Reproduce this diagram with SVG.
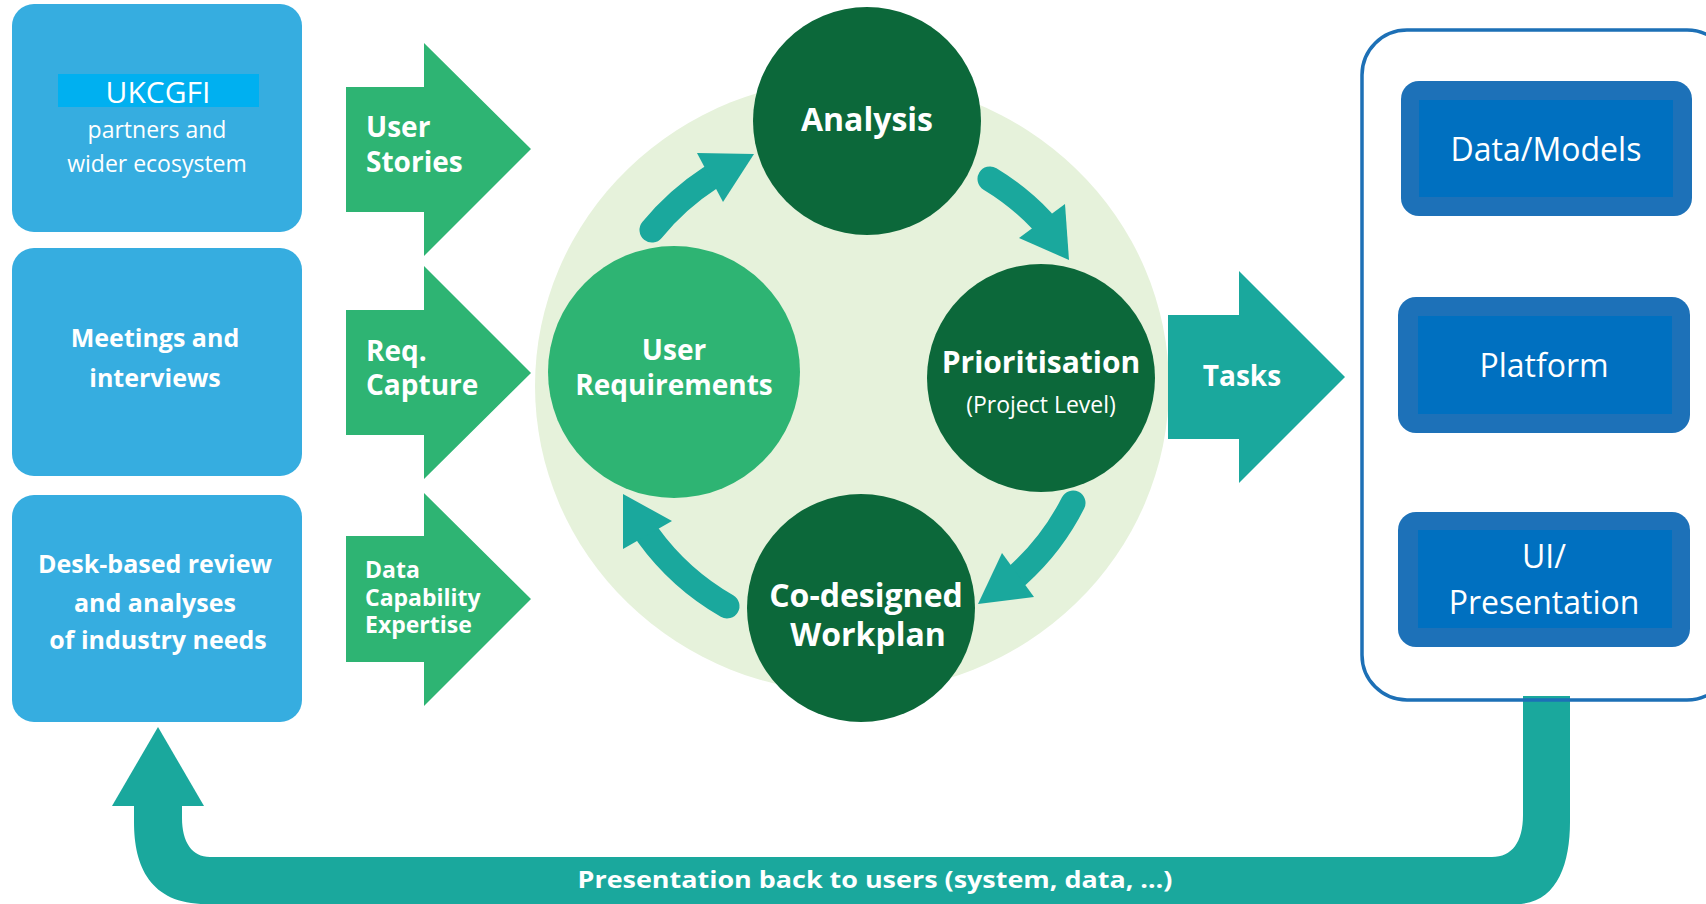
<svg xmlns="http://www.w3.org/2000/svg" width="1706" height="904" viewBox="0 0 1706 904">
<style>
.src{fill:#36ADE0}
.t{font-family:"Open Sans","Noto Sans",sans-serif;fill:#fff}
.b{font-weight:bold}
.g{fill:#2EB473}
.dk{fill:#0C683A}
.teal{fill:#1AA89D}
.shaft{fill:none;stroke:#1AA89D;stroke-width:25;stroke-linecap:round}
.bo{fill:#1D71B8}
.bi{fill:#0070C0}
</style>
<rect width="1706" height="904" fill="#fff"/>

<g id="bg-circle"><ellipse cx="852" cy="386" rx="317" ry="307" fill="#E6F2DB"/></g>

<g id="feedback">
<path class="teal" d="M134,806 L134,822 C134,866 150,904 206,904 L1516,904 C1556,904 1570,866 1570,822 L1570,696 L1523,696 L1523,815 C1523,842 1512,857 1492,857 L210,857 C192,857 182,842 182,818 L182,806 Z"/>
<polygon class="teal" points="158,727 204,806 112,806"/>
<text class="t b" x="875" y="888" font-size="24" text-anchor="middle" textLength="595" lengthAdjust="spacingAndGlyphs">Presentation back to users (system, data, …)</text>
</g>

<g id="src1">
<rect class="src" x="12" y="4" width="290" height="228" rx="22"/>
<rect x="58" y="74" width="201" height="33" fill="#00B0F0"/>
<text class="t" x="158" y="103" font-size="30" text-anchor="middle">UKCGFI</text>
<text class="t" x="157" y="138" font-size="23" text-anchor="middle">partners and</text>
<text class="t" x="157" y="172" font-size="23" text-anchor="middle">wider ecosystem</text>
</g>
<g id="src2">
<rect class="src" x="12" y="248" width="290" height="228" rx="22"/>
<text class="t b" x="155" y="347" font-size="25" text-anchor="middle">Meetings and</text>
<text class="t b" x="155" y="387" font-size="25" text-anchor="middle">interviews</text>
</g>
<g id="src3">
<rect class="src" x="12" y="495" width="290" height="227" rx="22"/>
<text class="t b" x="155" y="573" font-size="25" text-anchor="middle">Desk-based review</text>
<text class="t b" x="155" y="612" font-size="25" text-anchor="middle">and analyses</text>
<text class="t b" x="158" y="649" font-size="25" text-anchor="middle">of industry needs</text>
</g>

<g id="in1">
<polygon class="g" points="346,87 424,87 424,43 531,149 424,256 424,212 346,212"/>
<text class="t b" x="366" y="137" font-size="28">User</text>
<text class="t b" x="366" y="172" font-size="28">Stories</text>
</g>
<g id="in2">
<polygon class="g" points="346,310 424,310 424,266 531,373 424,479 424,435 346,435"/>
<text class="t b" x="366" y="361" font-size="28">Req.</text>
<text class="t b" x="366" y="395" font-size="28">Capture</text>
</g>
<g id="in3">
<polygon class="g" points="346,536 424,536 424,493 531,599 424,706 424,662 346,662"/>
<text class="t b" x="365" y="578" font-size="23">Data</text>
<text class="t b" x="365" y="606" font-size="23">Capability</text>
<text class="t b" x="365" y="633" font-size="23">Expertise</text>
</g>

<g id="analysis">
<circle class="dk" cx="867" cy="121" r="114"/>
<text class="t b" x="867" y="131" font-size="32" text-anchor="middle">Analysis</text>
</g>
<g id="user-req">
<circle class="g" cx="674" cy="372" r="126"/>
<text class="t b" x="674" y="360" font-size="28" text-anchor="middle">User</text>
<text class="t b" x="674" y="395" font-size="28" text-anchor="middle">Requirements</text>
</g>
<g id="prioritisation">
<circle class="dk" cx="1041" cy="378" r="114"/>
<text class="t b" x="1041" y="373" font-size="30" text-anchor="middle">Prioritisation</text>
<text class="t" x="1041" y="413" font-size="23" text-anchor="middle">(Project Level)</text>
</g>
<g id="workplan">
<circle class="dk" cx="861" cy="608" r="114"/>
<text class="t b" x="866" y="607" font-size="32" text-anchor="middle">Co-designed</text>
<text class="t b" x="868" y="646" font-size="32" text-anchor="middle">Workplan</text>
</g>

<g id="connectors">
<path class="shaft" d="M652,230 A252,252 0 0 1 710,178"/>
<polygon class="teal" points="697,153 754,154 723,202"/>
<path class="shaft" d="M990,179 A245,245 0 0 1 1042,221"/>
<polygon class="teal" points="1019,238 1065,204 1069,260"/>
<path class="shaft" d="M1073,503 A245,245 0 0 1 1018,575"/>
<polygon class="teal" points="1002,553 1034,597 978,604"/>
<path class="shaft" d="M727,606 A252,252 0 0 1 648,535"/>
<polygon class="teal" points="672,521 623,549 623,494"/>
</g>

<g id="tasks">
<polygon class="teal" points="1168,315 1239,315 1239,271 1345,377 1239,483 1239,439 1168,439"/>
<text class="t b" x="1242" y="386" font-size="28" text-anchor="middle">Tasks</text>
</g>

<g id="container">
<rect x="1362" y="30" width="370" height="670" rx="45" fill="none" stroke="#1D70B6" stroke-width="3.5"/>
</g>
<g id="data-models">
<rect class="bo" x="1401" y="81" width="291" height="135" rx="18"/>
<rect class="bi" x="1419" y="100" width="254" height="97"/>
<text class="t" x="1546" y="161" font-size="32" text-anchor="middle">Data/Models</text>
</g>
<g id="platform">
<rect class="bo" x="1398" y="297" width="292" height="136" rx="18"/>
<rect class="bi" x="1418" y="316" width="254" height="98"/>
<text class="t" x="1544" y="377" font-size="32" text-anchor="middle">Platform</text>
</g>
<g id="ui">
<rect class="bo" x="1398" y="512" width="292" height="135" rx="18"/>
<rect class="bi" x="1418" y="530" width="254" height="98"/>
<text class="t" x="1544" y="568" font-size="32" text-anchor="middle">UI/</text>
<text class="t" x="1544" y="614" font-size="32" text-anchor="middle">Presentation</text>
</g>
</svg>
